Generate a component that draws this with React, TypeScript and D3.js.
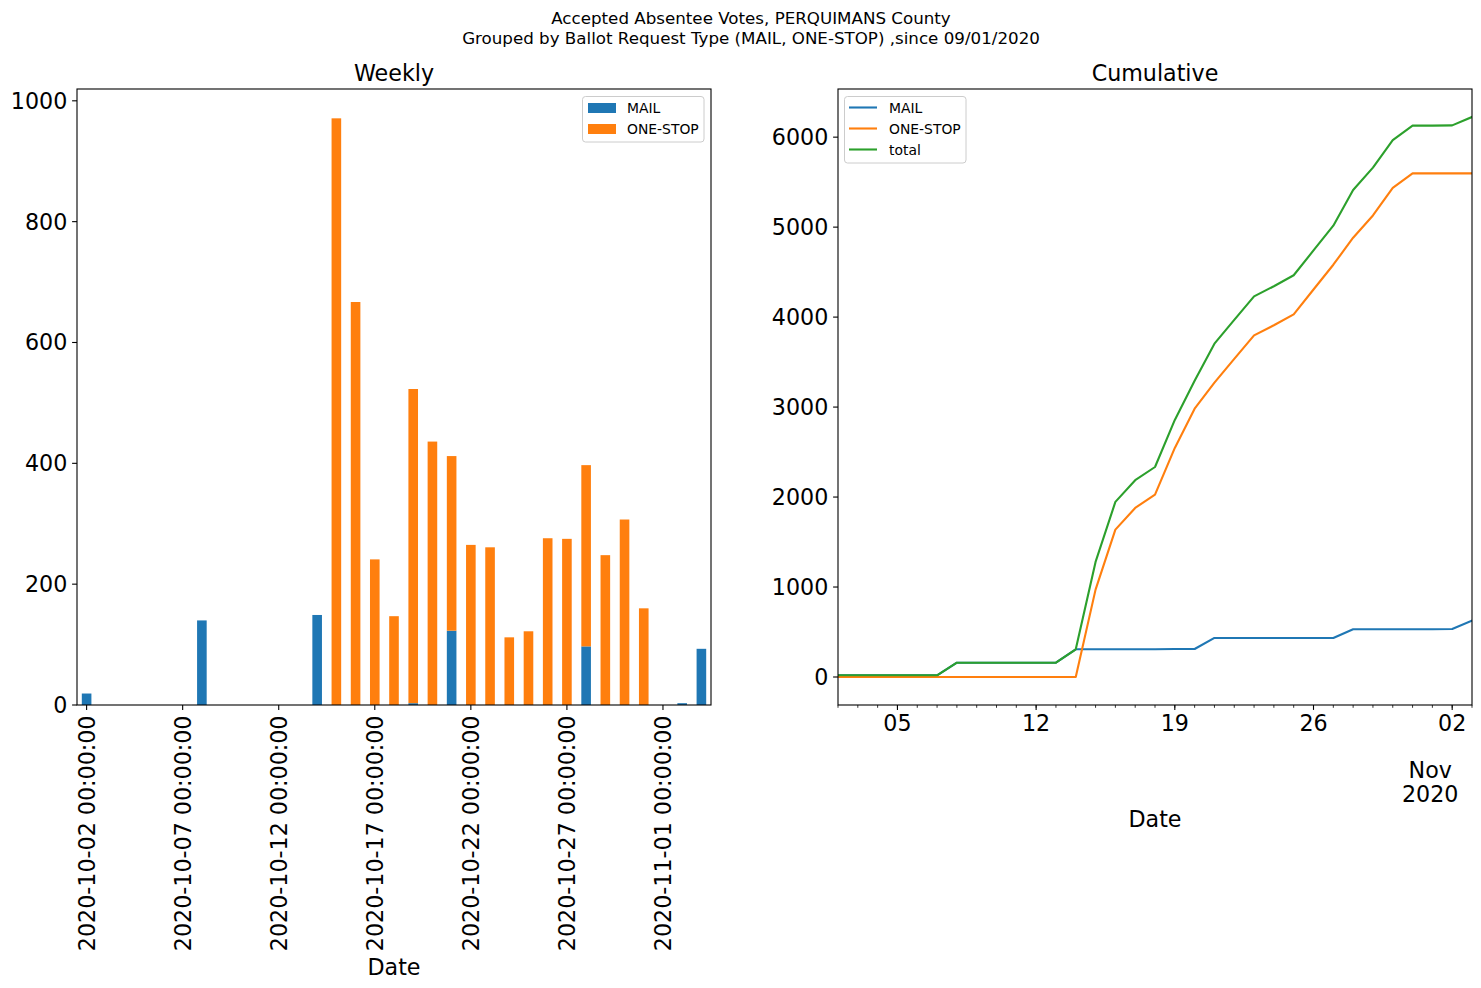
import React from "react";
import * as d3 from "d3";

// ---- data ----
const dates = [
  "2020-10-02", "2020-10-03", "2020-10-04", "2020-10-05", "2020-10-06", "2020-10-07",
  "2020-10-08", "2020-10-09", "2020-10-10", "2020-10-11", "2020-10-12", "2020-10-13",
  "2020-10-14", "2020-10-15", "2020-10-16", "2020-10-17", "2020-10-18", "2020-10-19",
  "2020-10-20", "2020-10-21", "2020-10-22", "2020-10-23", "2020-10-24", "2020-10-25",
  "2020-10-26", "2020-10-27", "2020-10-28", "2020-10-29", "2020-10-30", "2020-10-31",
  "2020-11-01", "2020-11-02", "2020-11-03",
];
const mailVotes = [
  19, 0, 0, 0, 0, 0,
  140, 0, 0, 0, 0, 0,
  149, 0, 0, 0, 0, 3,
  0, 123, 0, 0, 0, 0,
  0, 0, 97, 0, 0, 0,
  0, 3, 93,
];
const oneStopVotes = [
  0, 0, 0, 0, 0, 0,
  0, 0, 0, 0, 0, 0,
  0, 971, 667, 241, 147, 520,
  436, 289, 265, 261, 112, 122,
  276, 275, 300, 248, 307, 160,
  0, 0, 0,
];
const seriesNames = ["MAIL", "ONE-STOP"];
const cumulativeNames = ["MAIL", "ONE-STOP", "total"];
const weeklyTicks = [0, 200, 400, 600, 800, 1000];
const cumulativeTicks = [0, 1000, 2000, 3000, 4000, 5000, 6000];
const weeklyLabelEvery = 5;
const cumMajorDates = ["2020-10-05", "2020-10-12", "2020-10-19", "2020-10-26", "2020-11-02"];
const cumMajorLabels = ["05", "12", "19", "26", "02"];
const monthLabel = ["Nov", "2020"];
const titleLines = [
  "Accepted Absentee Votes, PERQUIMANS County",
  "Grouped by Ballot Request Type (MAIL, ONE-STOP) ,since 09/01/2020",
];

const COLORS = ["#1f77b4", "#ff7f0e", "#2ca02c"];
const FONT = "DejaVu Sans";

const W = 1481;
const H = 988;
const TOP = 89;
const BOTTOM = 705;
const L1 = 77, R1 = 711;
const L2 = 838, R2 = 1472;

export default function App() {
  const parse = d3.utcParse("%Y-%m-%d");
  const dateObjs = dates.map((d) => parse(d) as Date);

  // weekly (stacked bars)
  const totals = dates.map((_, i) => mailVotes[i] + oneStopVotes[i]);
  const maxStack = d3.max(totals) as number;
  const xBand = d3.scaleLinear().domain([-0.5, dates.length - 0.5]).range([L1, R1]);
  const yW = d3.scaleLinear().domain([0, maxStack * 1.05]).range([BOTTOM, TOP]);
  const stackData = dates.map((d, i) => ({ date: d, MAIL: mailVotes[i], "ONE-STOP": oneStopVotes[i] }));
  const stacked = d3.stack<any>().keys(seriesNames)(stackData);
  const barW = xBand(0.5) - xBand(0);

  // cumulative
  const cumMail = Array.from(d3.cumsum(mailVotes));
  const cumOne = Array.from(d3.cumsum(oneStopVotes));
  const cumTotal = cumMail.map((v, i) => v + cumOne[i]);
  const cumSeries = [cumMail, cumOne, cumTotal];
  const cMax = d3.max(cumTotal) as number;
  const xT = d3.scaleUtc().domain([dateObjs[0], dateObjs[dateObjs.length - 1]]).range([L2, R2]);
  const yC = d3.scaleLinear().domain([-0.05 * cMax, 1.05 * cMax]).range([BOTTOM, TOP]);
  const line = d3.line<number>().x((_, i) => xT(dateObjs[i])).y((v) => yC(v));

  const tickFont = 22.2;
  const legendFont = 13.9;

  return (
    <svg width={W} height={H} style={{ position: "absolute", left: 0, top: 0, background: "#fff" }} fontFamily={FONT}>
      <rect x={0} y={0} width={W} height={H} fill="#fff" />
      {/* suptitle */}
      {titleLines.map((t, i) => (
        <text key={i} x={751} y={23.5 + i * 20.5} textAnchor="middle" fontSize={16.7} fill="#000">{t}</text>
      ))}

      {/* ---------- Weekly ---------- */}
      <text x={(L1 + R1) / 2} y={81} textAnchor="middle" fontSize={22.2}>Weekly</text>
      {stacked.map((layer, si) => (
        <g key={si} fill={COLORS[si]}>
          {layer.map((d, i) => {
            const y0 = yW(d[0]);
            const y1 = yW(d[1]);
            if (Math.abs(y0 - y1) < 0.01) return null;
            return <rect key={i} x={xBand(i) - barW / 2} y={y1} width={barW} height={y0 - y1} />;
          })}
        </g>
      ))}
      <rect x={L1} y={TOP} width={R1 - L1} height={BOTTOM - TOP} fill="none" stroke="#000" strokeWidth={1.1} />
      {weeklyTicks.map((t) => (
        <g key={t}>
          <line x1={L1 - 4.9} x2={L1} y1={yW(t)} y2={yW(t)} stroke="#000" strokeWidth={1.1} />
          <text x={L1 - 9.7} y={yW(t)} dy="0.36em" textAnchor="end" fontSize={tickFont}>{t}</text>
        </g>
      ))}
      {dates.map((d, i) =>
        i % weeklyLabelEvery === 0 ? (
          <g key={d}>
            <line x1={xBand(i)} x2={xBand(i)} y1={BOTTOM} y2={BOTTOM + 4.9} stroke="#000" strokeWidth={1.1} />
            <text
              transform={`translate(${xBand(i)},${BOTTOM + 10.5}) rotate(-90)`}
              dy="0.36em"
              textAnchor="end"
              fontSize={tickFont}
            >{`${d} 00:00:00`}</text>
          </g>
        ) : null
      )}
      <text x={(L1 + R1) / 2} y={975} textAnchor="middle" fontSize={22.2}>Date</text>
      {/* legend weekly */}
      <g>
        <rect x={582.5} y={96.5} width={121.5} height={45.5} rx={3} fill="#fff" fillOpacity={0.8} stroke="#cccccc" strokeWidth={1} />
        {seriesNames.map((n, i) => (
          <g key={n}>
            <rect x={588} y={103 + i * 21} width={28} height={10} fill={COLORS[i]} />
            <text x={627} y={113 + i * 21} fontSize={legendFont}>{n}</text>
          </g>
        ))}
      </g>

      {/* ---------- Cumulative ---------- */}
      <text x={(L2 + R2) / 2} y={81} textAnchor="middle" fontSize={22.2}>Cumulative</text>
      <defs>
        <clipPath id="clipC">
          <rect x={L2} y={TOP} width={R2 - L2} height={BOTTOM - TOP} />
        </clipPath>
      </defs>
      <g clipPath="url(#clipC)">
        {cumSeries.map((s, i) => (
          <path key={i} d={line(s) as string} fill="none" stroke={COLORS[i]} strokeWidth={2.1} strokeLinejoin="round" strokeLinecap="square" />
        ))}
      </g>
      <rect x={L2} y={TOP} width={R2 - L2} height={BOTTOM - TOP} fill="none" stroke="#000" strokeWidth={1.1} />
      {cumulativeTicks.map((t) => (
        <g key={t}>
          <line x1={L2 - 4.9} x2={L2} y1={yC(t)} y2={yC(t)} stroke="#000" strokeWidth={1.1} />
          <text x={L2 - 9.7} y={yC(t)} dy="0.36em" textAnchor="end" fontSize={tickFont}>{t}</text>
        </g>
      ))}
      {dateObjs.map((d, i) => (
        <line key={i} x1={xT(d)} x2={xT(d)} y1={BOTTOM} y2={BOTTOM + 2.8} stroke="#000" strokeWidth={0.8} />
      ))}
      {cumMajorDates.map((ds, i) => {
        const x = xT(parse(ds) as Date);
        return (
          <g key={ds}>
            <line x1={x} x2={x} y1={BOTTOM} y2={BOTTOM + 4.9} stroke="#000" strokeWidth={1.1} />
            <text x={x} y={731} textAnchor="middle" fontSize={tickFont}>{cumMajorLabels[i]}</text>
          </g>
        );
      })}
      {(() => {
        const x = xT(parse(cumMajorDates[cumMajorDates.length - 1]) as Date) - 22;
        return (
          <g>
            <text x={x} y={778} textAnchor="middle" fontSize={tickFont}>{monthLabel[0]}</text>
            <text x={x} y={802} textAnchor="middle" fontSize={tickFont}>{monthLabel[1]}</text>
          </g>
        );
      })()}
      <text x={(L2 + R2) / 2} y={827} textAnchor="middle" fontSize={22.2}>Date</text>
      {/* legend cumulative */}
      <g>
        <rect x={844.5} y={96.5} width={121.5} height={66.5} rx={3} fill="#fff" fillOpacity={0.8} stroke="#cccccc" strokeWidth={1} />
        {cumulativeNames.map((n, i) => (
          <g key={n}>
            <line x1={849} x2={877} y1={107.5 + i * 21} y2={107.5 + i * 21} stroke={COLORS[i]} strokeWidth={2.1} />
            <text x={889} y={113 + i * 21} fontSize={legendFont}>{n}</text>
          </g>
        ))}
      </g>
    </svg>
  );
}
